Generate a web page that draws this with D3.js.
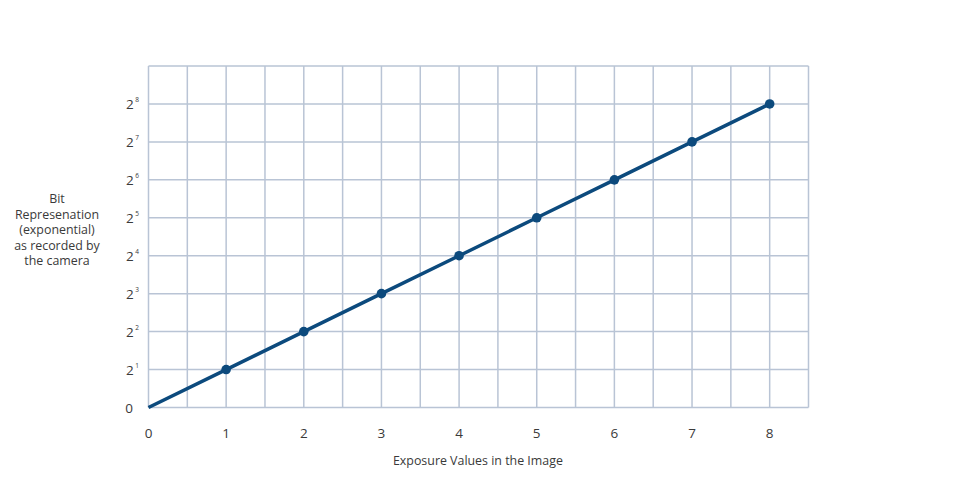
<!DOCTYPE html>
<html><head><meta charset="utf-8">
<script src="https://cdn.jsdelivr.net/npm/d3@7"></script>
<style>body{margin:0;background:#fff;} text{font-family:"Open Sans",sans-serif;fill:#3a3a3a;}</style>
</head><body>
<svg id="c" width="958" height="489"></svg>
<script>
const exposureValues = [0, 1, 2, 3, 4, 5, 6, 7, 8];
const bitLevels = [0, 1, 2, 3, 4, 5, 6, 7, 8];
const xTickLabels = ["0","1","2","3","4","5","6","7","8"];
const yTickExponents = [null, "1","2","3","4","5","6","7","8"];
const yTitleLines = ["Bit","Represenation","(exponential)","as recorded by","the camera"];
const xTitle = "Exposure Values in the Image";

const svg = d3.select("#c");
const x = d3.scaleLinear().domain([0, 8.5]).range([148.5, 808.5]);
const y = d3.scaleLinear().domain([0, 9]).range([407.5, 66]);
const gridColor = "#b9c4d5";

// grid
const vx = d3.range(0, 8.51, 0.5);
svg.append("g").selectAll("line").data(vx).join("line")
  .attr("x1", d => x(d)).attr("x2", d => x(d)).attr("y1", y(0)).attr("y2", y(9))
  .attr("stroke", gridColor).attr("stroke-width", 1.5);
svg.append("g").selectAll("line").data(d3.range(0, 10)).join("line")
  .attr("x1", x(0)).attr("x2", x(8.5)).attr("y1", d => y(d)).attr("y2", d => y(d))
  .attr("stroke", gridColor).attr("stroke-width", 1.5);

// x tick labels
svg.append("g").selectAll("text").data(xTickLabels).join("text")
  .attr("x", (d, i) => x(exposureValues[i])).attr("y", 438)
  .attr("text-anchor", "middle").attr("font-size", 13.5).text(d => d);

// y tick labels
const yt = svg.append("g").selectAll("text").data(yTickExponents).join("text")
  .attr("y", (d, i) => y(bitLevels[i]) + 5)
  .attr("font-size", 13.5);
yt.each(function(d, i) {
  const t = d3.select(this);
  if (d === null) {
    t.attr("x", 129).attr("text-anchor", "middle").text("0");
  } else {
    t.attr("x", 126);
    t.append("tspan").text("2");
    t.append("tspan").attr("font-size", 6.5).attr("dy", -6.5).attr("dx", 1.5).text(d);
  }
});

// y title
svg.append("text").attr("font-size", 12.4).attr("text-anchor", "middle")
  .selectAll("tspan").data(yTitleLines).join("tspan")
  .attr("x", 57).attr("y", (d, i) => 203 + i * 15.5).text(d => d);

// x title
svg.append("text").attr("x", x(4.5) - 20).attr("y", 465).attr("text-anchor", "middle")
  .attr("font-size", 12.4).text(xTitle);

// line
const pts = exposureValues.map((v, i) => [v, bitLevels[i]]);
svg.append("path").datum(pts)
  .attr("d", d3.line().x(d => x(d[0])).y(d => y(d[1])))
  .attr("fill", "none").attr("stroke", "#0c4a7d").attr("stroke-width", 3.5);
svg.append("g").selectAll("circle").data(pts.slice(1)).join("circle")
  .attr("cx", d => x(d[0])).attr("cy", d => y(d[1])).attr("r", 4.8).attr("fill", "#0c4a7d");
</script>
</body></html>
